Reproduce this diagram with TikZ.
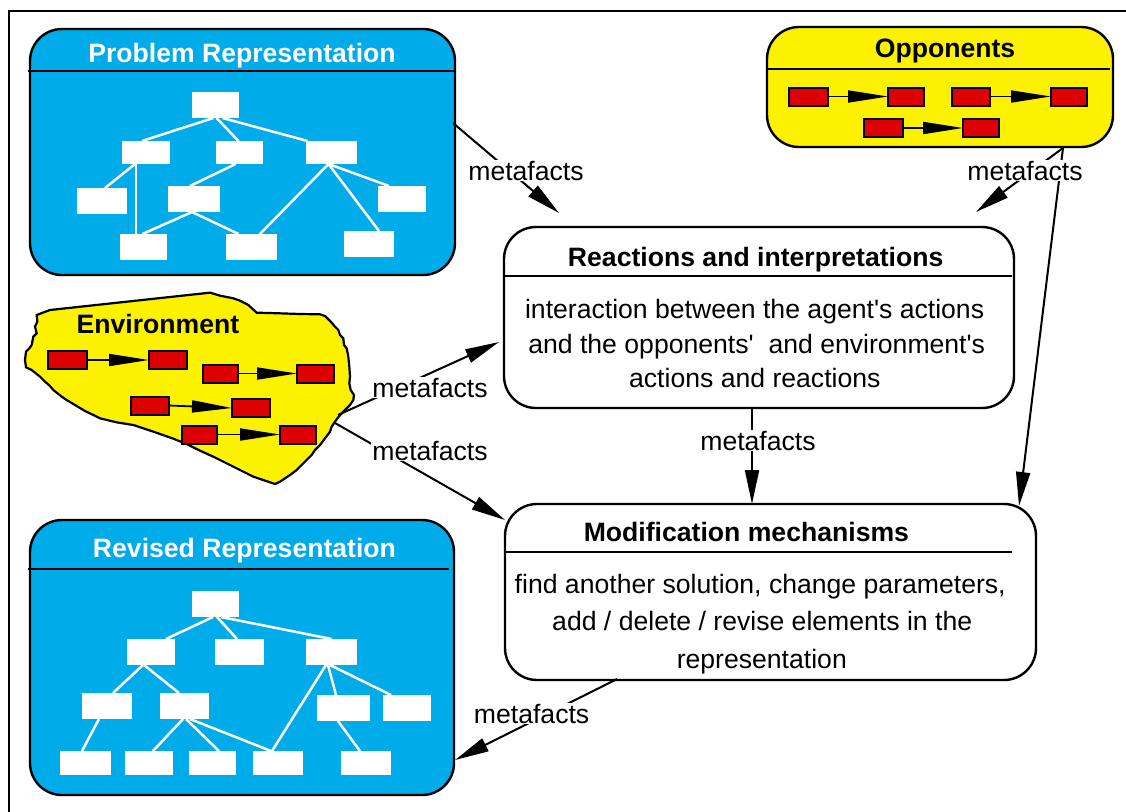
\documentclass[tikz,border=0pt]{standalone}
\usepackage{fontspec}
\setmainfont{Liberation Sans}
\usetikzlibrary{arrows.meta,calc}
\definecolor{boxblue}{RGB}{0,171,233}
\definecolor{envyellow}{RGB}{252,242,0}
\definecolor{chainred}{RGB}{221,0,0}
\tikzset{
 bigbox/.style={draw=black, line width=2.4pt, rounded corners=32pt, inner sep=0pt, outer sep=0pt},
 bluebox/.style={bigbox, fill=boxblue},
 yellowbox/.style={bigbox, fill=envyellow},
 whitebox/.style={bigbox, fill=white},
 hline/.style={line width=2.4pt},
 tbox/.style={fill=white, inner sep=0pt, outer sep=0pt},
 tline/.style={draw=white, line width=2.5pt},
 rbox/.style={draw=black, fill=chainred, line width=2pt, inner sep=0pt, outer sep=0pt, minimum height=18pt},
 chainarrow/.style={line width=1.8pt, -{Triangle[length=40pt,width=12pt]}},
 conn/.style={line width=2pt, -{Triangle[length=34pt,width=14pt]}},
 lab/.style={fill=white, inner sep=1pt, anchor=base, font=\fontsize{26.6}{30}\selectfont},
 ttl/.style={font=\bfseries\fontsize{26.6}{30}\selectfont, inner sep=0pt, anchor=base},
 bodytxt/.style={font=\fontsize{26.6}{30}\selectfont, inner sep=0pt, anchor=base},
}
\begin{document}
\begin{tikzpicture}[x=1pt,y=-1pt]
\useasboundingbox (0,0) rectangle (1126,811);
\fill[white] (0,0) rectangle (1126,811);
% outer frame
\draw[line width=2.6pt] (9,830) -- (9,11) -- (1140,11);

% ---------- Problem Representation ----------
\node[bluebox, minimum width=425pt, minimum height=246pt] (prob) at (242.5,152) {};
\draw[hline] (28,71) -- (455,71);
\node[ttl, text=white] (probtitle) at (242,62) {Problem Representation};
\node[tbox, minimum width=47pt, minimum height=26pt] (p0) at (215.5,105) {};
\node[tbox, minimum width=48pt, minimum height=23pt] (pA) at (146,152.5) {};
\node[tbox, minimum width=47pt, minimum height=23pt] (pB) at (239.5,152.5) {};
\node[tbox, minimum width=51pt, minimum height=23pt] (pC) at (331.5,152.5) {};
\node[tbox, minimum width=50pt, minimum height=26pt] (pD) at (102,201) {};
\node[tbox, minimum width=52pt, minimum height=26pt] (pE) at (194,199) {};
\node[tbox, minimum width=48pt, minimum height=26pt] (pF) at (402,199) {};
\node[tbox, minimum width=47pt, minimum height=26pt] (pG) at (143.5,247) {};
\node[tbox, minimum width=51pt, minimum height=26pt] (pH) at (251.5,247) {};
\node[tbox, minimum width=50pt, minimum height=26pt] (pI) at (369,244) {};
\draw[tline] ($(p0.south)+(-2,0)$) -- ($(pA.north)+(-4,0)$);
\draw[tline] ($(p0.south)+(1,0)$) -- ($(pB.north)+(-1,0)$);
\draw[tline] ($(p0.south)+(7,0)$) -- ($(pC.north)+(-24,0)$);
\draw[tline] ($(pA.south)+(-11,0)$) -- ($(pD.north)+(3,0)$);
\draw[tline] ($(pA.south)+(-10,0)$) -- ($(pG.north)+(-7.5,0)$);
\draw[tline] ($(pB.south)+(-4,0)$) -- ($(pE.north)+(-4,0)$);
\draw[tline] ($(pE.south)+(-2,0)$) -- ($(pG.north)+(-1,0)$);
\draw[tline] ($(pE.south)+(-2,0)$) -- ($(pH.north)+(-13,0)$);
\draw[tline] ($(pC.south)+(-3,0)$) -- ($(pH.north)+(8.5,0)$);
\draw[tline] ($(pC.south)+(-3,0)$) -- ($(pI.north)+(10,0)$);
\draw[tline] ($(pC.south)+(-3,0)$) -- ($(pF.north)+(-13,0)$);

% ---------- Opponents ----------
\node[yellowbox, minimum width=346pt, minimum height=120pt] (opp) at (940,87) {};
\draw[hline] (767,69) -- (1110,69);
\node[ttl] (opptitle) at (945,57) {Opponents};
\node[rbox, minimum width=39pt] (o1a) at (808.5,96.5) {};
\node[rbox, minimum width=36pt] (o1b) at (906,96.5) {};
\node[rbox, minimum width=38pt] (o2a) at (971,96.5) {};
\node[rbox, minimum width=36pt] (o2b) at (1069,96.5) {};
\node[rbox, minimum width=39pt] (o3a) at (883.5,128) {};
\node[rbox, minimum width=36pt] (o3b) at (981,128) {};
\draw[chainarrow] (o1a.east) -- (o1b.west);
\draw[chainarrow] (o2a.east) -- (o2b.west);
\draw[chainarrow] (o3a.east) -- (o3b.west);

% ---------- Environment ----------
\begin{scope}[shift={(0,280)}, x=0.33333pt, y=-0.33333pt]
\draw[line width=2.2pt, fill=envyellow, line join=miter]
 (110,105) -- (150,90) -- (630,38) -- (660,47) -- (700,55) -- (720,62) -- (745,75)
 -- (770,98) -- (840,100) -- (900,102) -- (960,103) -- (975,108) -- (985,118)
 -- (995,128) -- (1005,140) -- (1015,150) -- (1020,165) -- (1030,175) -- (1032,195)
 -- (1040,205) -- (1045,230) -- (1048,260) -- (1050,290) -- (1048,310) -- (1052,330)
 -- (1062,345) -- (1060,360) -- (1050,375) -- (1040,385) -- (1025,400) -- (1012,415)
 -- (1005,425) -- (995,440) -- (990,455) -- (975,475) -- (960,495) -- (945,510)
 -- (935,525) -- (920,540) -- (905,555) -- (890,570) -- (870,585) -- (855,595)
 -- (840,605) -- (825,612) -- (760,590) -- (700,560) -- (640,530) -- (600,512)
 -- (560,492) -- (520,476) -- (460,455) -- (400,435) -- (350,427) -- (300,415)
 -- (280,405) -- (255,393) -- (230,378) -- (200,360) -- (185,350) -- (160,330)
 -- (150,318) -- (135,305) -- (120,290) -- (95,270) -- (78,262) -- (75,240)
 -- (78,215) -- (88,205) -- (95,195) -- (100,170) -- (110,160) -- (105,140)
 -- (112,125) -- cycle;
\end{scope}
\node[ttl] (envtitle) at (158,333) {Environment};
\node[rbox, minimum width=39pt] (e1a) at (67.5,360) {};
\node[rbox, minimum width=38pt] (e1b) at (168,360) {};
\node[rbox, minimum width=35pt] (e2a) at (220.5,373.5) {};
\node[rbox, minimum width=37pt] (e2b) at (315.5,373.5) {};
\node[rbox, minimum width=38pt] (e3a) at (150,405.5) {};
\node[rbox, minimum width=38pt] (e3b) at (251,408) {};
\node[rbox, minimum width=35pt] (e4a) at (199.5,434.5) {};
\node[rbox, minimum width=36pt] (e4b) at (298,434.5) {};
\draw[chainarrow] (e1a.east) -- (e1b.west);
\draw[chainarrow] (e2a.east) -- (e2b.west);
\draw[chainarrow] (e3a.east) -- (e3b.west);
\draw[chainarrow] (e4a.east) -- (e4b.west);

% ---------- Reactions and interpretations ----------
\node[whitebox, minimum width=510pt, minimum height=181pt] (react) at (759,317.5) {};
\draw[hline] (504,276) -- (1012,276);
\node[ttl] (reacttitle) at (755.7,266) {Reactions and interpretations};
\node[bodytxt] (reactl1) at (754.6,318) {interaction between the agent\textquotesingle s actions};
\node[bodytxt] (reactl2) at (756.7,353) {and the opponents\textquotesingle~ and environment\textquotesingle s};
\node[bodytxt] (reactl3) at (754.8,387) {actions and reactions};

% ---------- Modification mechanisms ----------
\node[whitebox, minimum width=531pt, minimum height=176pt] (modif) at (770.5,592) {};
\draw[hline] (505,552) -- (1012,552);
\node[ttl] (modiftitle) at (746.4,541) {Modification mechanisms};
\node[bodytxt] (modifl1) at (760.2,593) {find another solution, change parameters,};
\node[bodytxt] (modifl2) at (762.2,630) {add / delete / revise elements in the};
\node[bodytxt] (modifl3) at (761.8,668) {representation};

% ---------- Revised Representation ----------
\node[bluebox, minimum width=424pt, minimum height=275pt] (rev) at (242,657.5) {};
\draw[hline] (28,569) -- (449,569);
\node[ttl, text=white] (revtitle) at (244.5,557) {Revised Representation};
\node[tbox, minimum width=47pt, minimum height=26pt] (r0) at (215.5,604) {};
\node[tbox, minimum width=48pt, minimum height=26pt] (ra) at (151,652) {};
\node[tbox, minimum width=49pt, minimum height=26pt] (rb) at (239.5,652) {};
\node[tbox, minimum width=51pt, minimum height=26pt] (rc) at (331.5,652) {};
\node[tbox, minimum width=50pt, minimum height=26pt] (rd) at (107,706) {};
\node[tbox, minimum width=49pt, minimum height=26pt] (re) at (184.5,706) {};
\node[tbox, minimum width=53pt, minimum height=26pt] (rf) at (343.5,708) {};
\node[tbox, minimum width=48pt, minimum height=26pt] (rg) at (407,708) {};
\node[tbox, minimum width=51pt, minimum height=24pt] (rh) at (85.5,763) {};
\node[tbox, minimum width=48pt, minimum height=24pt] (ri) at (149,763) {};
\node[tbox, minimum width=47pt, minimum height=24pt] (rj) at (212.5,763) {};
\node[tbox, minimum width=50pt, minimum height=24pt] (rk) at (278,763) {};
\node[tbox, minimum width=50pt, minimum height=24pt] (rl) at (366,763) {};
\draw[tline] ($(r0.south)+(-2.5,0)$) -- ($(ra.north)+(15,0)$);
\draw[tline] ($(r0.south)+(1.5,0)$) -- ($(rb.north)+(-2.5,0)$);
\draw[tline] ($(r0.south)+(5.5,0)$) -- (rc.north);
\draw[tline] ($(ra.south)+(-8,0)$) -- ($(rd.north)+(6,0)$);
\draw[tline] ($(ra.south)+(-7,0)$) -- ($(re.north)+(-5.5,0)$);
\draw[tline] ($(rd.south)+(-8,0)$) -- ($(rh.north)+(-3.5,0)$);
\draw[tline] ($(re.south)+(-1.5,0)$) -- ($(ri.north)+(4,0)$);
\draw[tline] ($(re.south)+(1.5,0)$) -- ($(rj.north)+(6.5,0)$);
\draw[tline] ($(re.south)+(5.5,0)$) -- ($(rk.north)+(-7,0)$);
\draw[tline] ($(rc.south)+(-5.5,0)$) -- ($(rk.north)+(-6,0)$);
\draw[tline] ($(rc.south)+(-3.5,0)$) -- ($(rf.north)+(-7.5,0)$);
\draw[tline] ($(rc.south)+(-1.5,0)$) -- ($(rg.north)+(-16,0)$);
\draw[tline] ($(rf.south)+(-5.5,0)$) -- ($(rl.north)+(-6,0)$);

% ---------- connector end points ----------
\coordinate (probout) at (453,123);
\coordinate (reactin1) at (559,213);
\coordinate (oppout) at (1063,148);
\coordinate (reactin2) at (976,212);
\coordinate (modifin1) at (1019,506);
\coordinate (envout1) at (338,415);
\coordinate (reactin3) at (499,342);
\coordinate (envout2) at (335,423);
\coordinate (modifin2) at (505,520);
\coordinate (reactout) at (752,408);
\coordinate (modifin3) at (752,504);
\coordinate (modifout) at (617,679);
\coordinate (revin) at (455,760);

% ---------- connectors ----------
\draw[conn] (probout) -- (reactin1);
\draw[conn] (oppout) -- (reactin2);
\draw[conn] (oppout) -- (modifin1);
\draw[conn] (envout1) -- (reactin3);
\draw[conn] (envout2) -- (modifin2);
\draw[conn] (reactout) -- (modifin3);
\draw[conn] (modifout) -- (revin);

% ---------- labels ----------
\node[lab] (lab1) at (526,180) {metafacts};
\node[lab] (lab2) at (1025,180) {metafacts};
\node[lab] (lab3) at (430,397) {metafacts};
\node[lab] (lab4) at (430,460) {metafacts};
\node[lab] (lab5) at (758,450) {metafacts};
\node[lab] (lab6) at (531.6,723) {metafacts};
\end{tikzpicture}
\end{document}
